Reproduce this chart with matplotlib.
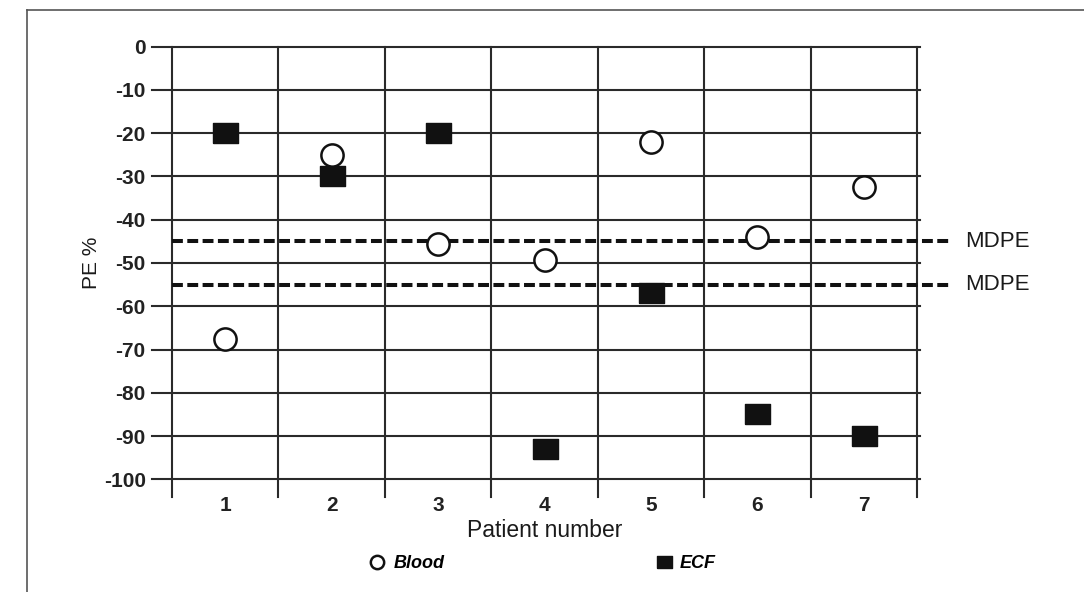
import numpy as np
import matplotlib
matplotlib.use("Agg")
import matplotlib.pyplot as plt
from matplotlib.lines import Line2D

plt.rcParams['font.family'] = ['Liberation Sans', 'DejaVu Sans']

# data
patients = [1, 2, 3, 4, 5, 6, 7]
blood = [-67.5, -25, -45.5, -49.3, -22, -44, -32.5]
ecf = [-20, -30, -20, -93, -57, -85, -90]
mdpe = [-45, -55]
yticks = list(range(0, -101, -10))

fig = plt.figure(figsize=(10.84, 5.92), dpi=100)
ax = fig.add_axes([0.1587, 0.1904, 0.6873, 0.7307])
ax.set_xlim(0.5, 7.5)
ax.set_ylim(-100, 0)
for s in ax.spines.values():
    s.set_visible(False)

gc = "#2a2a2a"
# horizontal grid, running left past the first column to act as y ticks
for y in yticks:
    ax.plot([0.312, 7.53], [y, y], color=gc, lw=1.5, clip_on=False, zorder=1)
# vertical column dividers, extending below as x ticks
for xb in np.arange(0.5, 7.6, 1.0):
    ax.plot([xb, xb], [-104.2, 0], color=gc, lw=1.5, clip_on=False, zorder=1)

# MDPE dashed lines
for m in mdpe:
    ax.plot([0.5, 7.81], [m, m], color="#111111", lw=2.9, dashes=(2.7, 1.1),
            clip_on=False, zorder=2)
    ax.text(7.955, m, "MDPE", fontsize=16, va="center", ha="left", color="#1a1a1a")

rect = [(-1.25, -1), (1.25, -1), (1.25, 1), (-1.25, 1), (-1.25, -1)]
ax.plot(patients, ecf, linestyle="none", marker=rect, markersize=18,
        color="#111111", label="ECF", zorder=4, clip_on=False)
ax.plot(patients, blood, linestyle="none", marker="o", markersize=16,
        markerfacecolor="white", markeredgecolor="#111111", markeredgewidth=1.8,
        label="Blood", zorder=4, clip_on=False)

ax.set_yticks(yticks)
ax.set_yticklabels([str(v) for v in yticks], fontsize=15, fontweight="bold", color="#222222")
ax.set_xticks(patients)
ax.set_xticklabels([str(p) for p in patients], fontsize=15, fontweight="bold", color="#222222")
ax.tick_params(axis="y", length=0, pad=19)
ax.tick_params(axis="x", length=0, pad=12)

ax.set_xlabel("Patient number", fontsize=16.5, labelpad=3, color="#1a1a1a")
ax.set_ylabel("PE %", fontsize=15, labelpad=2, color="#1a1a1a")

h, l = ax.get_legend_handles_labels()
leg = ax.legend([h[1], h[0]], [l[1], l[0]], loc="center", bbox_to_anchor=(0.498, -0.195),
                ncol=2, frameon=False, markerscale=0.6, handlelength=0.8,
                handletextpad=0.5, columnspacing=11.75,
                prop={"style": "italic", "weight": "bold", "size": 13})

# outer frame (only left and top edges fall inside the picture)
fig.add_artist(Line2D([0.0249, 0.0249], [0.0, 0.983], color="#555555", lw=1.2))
fig.add_artist(Line2D([0.0249, 1.0], [0.983, 0.983], color="#555555", lw=1.2))

fig.savefig("out.png", dpi=100)
